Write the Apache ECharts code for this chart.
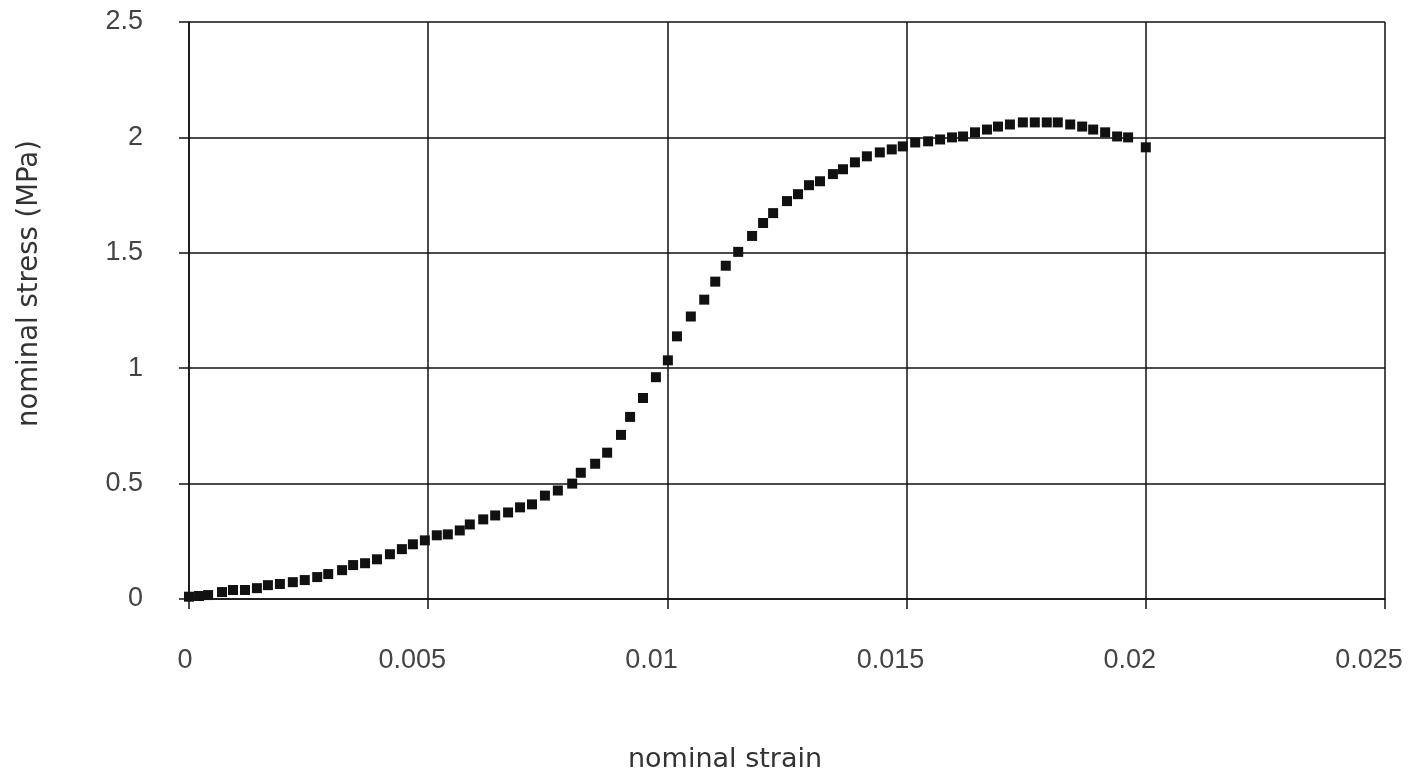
<!DOCTYPE html>
<html>
<head>
<meta charset="utf-8">
<script src="https://cdn.jsdelivr.net/npm/echarts@6/dist/echarts.min.js"></script>
<style>html,body{margin:0;padding:0;background:#fff}#c{width:1416px;height:778px}</style>
</head>
<body>
<div id="c"></div>
<script>
const strain = [0, 0.00021, 0.00040, 0.00069, 0.00092, 0.00117, 0.00142, 0.00165, 0.00190, 0.00217,
  0.00242, 0.00268, 0.00291, 0.00320, 0.00343, 0.00368, 0.00393, 0.00420, 0.00445, 0.00468,
  0.00493, 0.00518, 0.00541, 0.00566, 0.00587, 0.00615, 0.00640, 0.00667, 0.00692, 0.00717,
  0.00744, 0.00771, 0.00801, 0.00819, 0.00849, 0.00874, 0.00903, 0.00922, 0.00949, 0.00976,
  0.01001, 0.01020, 0.01049, 0.01077, 0.01100, 0.01122, 0.01148, 0.01177, 0.01200, 0.01221,
  0.01250, 0.01273, 0.01296, 0.01319, 0.01346, 0.01367, 0.01392, 0.01417, 0.01444, 0.01469,
  0.01492, 0.01518, 0.01545, 0.01570, 0.01595, 0.01618, 0.01643, 0.01668, 0.01691, 0.01716,
  0.01743, 0.01768, 0.01793, 0.01816, 0.01842, 0.01867, 0.01890, 0.01915, 0.01940, 0.01963,
  0.02000];
const stress = [0.010, 0.013, 0.017, 0.030, 0.039, 0.039, 0.047, 0.060, 0.065, 0.073,
  0.082, 0.095, 0.108, 0.125, 0.147, 0.155, 0.172, 0.194, 0.216, 0.237,
  0.254, 0.276, 0.280, 0.297, 0.323, 0.345, 0.362, 0.375, 0.397, 0.410,
  0.448, 0.470, 0.500, 0.547, 0.586, 0.634, 0.711, 0.789, 0.871, 0.961,
  1.034, 1.138, 1.224, 1.297, 1.375, 1.444, 1.504, 1.573, 1.629, 1.672,
  1.724, 1.754, 1.793, 1.810, 1.841, 1.862, 1.892, 1.918, 1.935, 1.948,
  1.961, 1.978, 1.983, 1.991, 2.000, 2.004, 2.022, 2.034, 2.047, 2.056,
  2.065, 2.065, 2.065, 2.065, 2.056, 2.047, 2.034, 2.022, 2.004, 2.000,
  1.957];
const xTicks = ['0', '0.005', '0.01', '0.015', '0.02', '0.025'];
const yTicks = ['0', '0.5', '1', '1.5', '2', '2.5'];
const xName = 'nominal strain';
const yName = 'nominal stress (MPa)';

const points = strain.map((s, i) => [s, stress[i]]);
const chart = echarts.init(document.getElementById('c'), null, {renderer: 'canvas'});
const nameFont = 'DejaVu Sans, Liberation Sans, sans-serif';
const tickFont = 'Liberation Sans, DejaVu Sans, sans-serif';
const tickStyle = {fontFamily: tickFont, fontSize: 27, color: '#444'};
chart.setOption({
  animation: false,
  backgroundColor: '#fff',
  grid: {left: 189, right: 31, top: 22, bottom: 176, containLabel: false},
  xAxis: {
    type: 'value', min: 0, max: 0.025, interval: 0.005,
    name: xName, nameLocation: 'middle', nameGap: 147,
    nameTextStyle: {fontFamily: nameFont, fontSize: 27, color: '#333', padding: [0, 124, 0, 0]},
    axisLine: {show: true, lineStyle: {color: '#111', width: 1.5}},
    axisTick: {show: true, length: 10, lineStyle: {color: '#111', width: 1.5}},
    splitLine: {show: true, lineStyle: {color: '#111', width: 1.5}},
    axisLabel: {margin: 48, fontFamily: tickFont, fontSize: 27, color: '#444',
      formatter: (v) => {
        const i = Math.round(v / 0.005);
        const t = xTicks[i] !== undefined ? xTicks[i] : '';
        return i === 0 ? '{z|' + t + '}' : '{a|' + t + '}';
      },
      rich: {
        z: Object.assign({padding: [0, 8, 0, 0]}, tickStyle),
        a: Object.assign({padding: [0, 32, 0, 0]}, tickStyle)
      }}
  },
  yAxis: {
    type: 'value', min: 0, max: 2.5, interval: 0.5,
    name: yName, nameLocation: 'middle', nameGap: 145,
    nameTextStyle: {fontFamily: nameFont, fontSize: 27.5, color: '#333', padding: [0, 0, 0, 54]},
    axisLine: {show: true, lineStyle: {color: '#111', width: 1.5}},
    axisTick: {show: true, length: 10, lineStyle: {color: '#111', width: 1.5}},
    splitLine: {show: true, lineStyle: {color: '#111', width: 1.5}},
    axisLabel: {margin: 46, fontFamily: tickFont, fontSize: 27, color: '#444', padding: [0, 0, 6, 0],
      formatter: (v) => { const i = Math.round(v / 0.5); return yTicks[i] !== undefined ? yTicks[i] : ''; }}
  },
  series: [{
    type: 'scatter',
    data: points,
    symbol: 'rect',
    symbolSize: 10,
    itemStyle: {color: '#111', opacity: 1}
  }]
});
</script>
</body>
</html>
